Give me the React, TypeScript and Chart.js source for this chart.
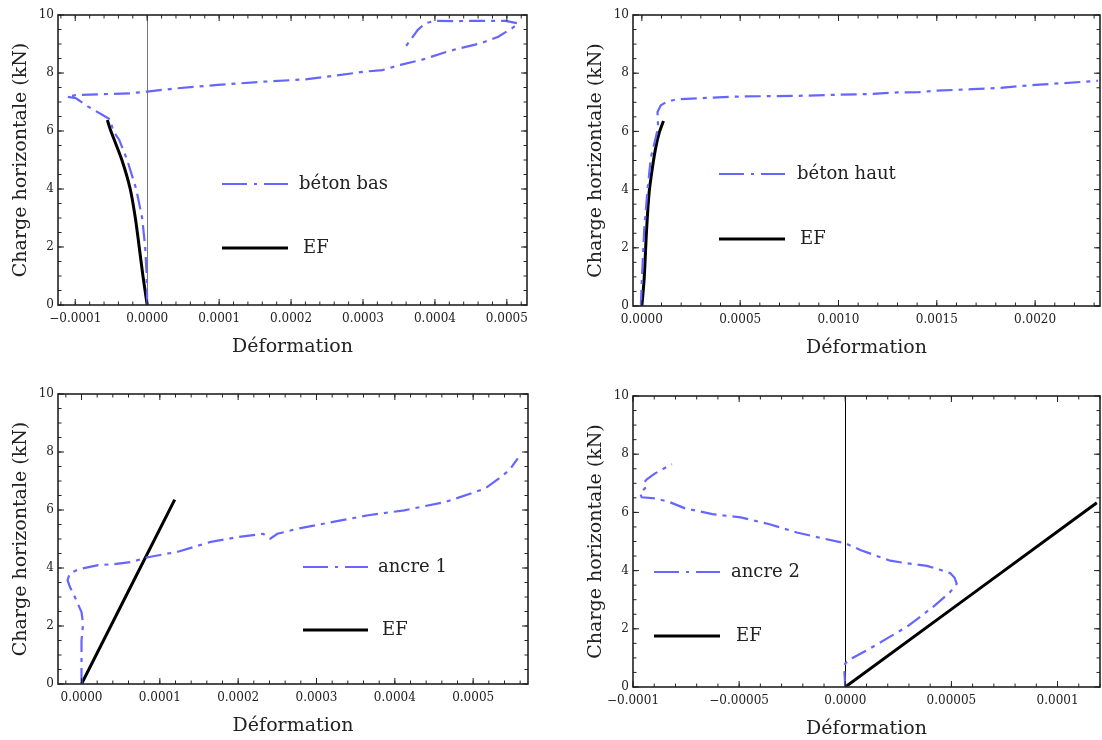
import React, { useEffect, useRef } from "react";
import { Chart, registerables } from "chart.js";

Chart.register(...registerables);

const FONT = "'DejaVu Serif', serif";
const BLUE = "rgb(102,102,255)";
const TEXT = "#222";

// ---------- data ----------
const yTicks = [0, 2, 4, 6, 8, 10];
const yTickLabels = ["0", "2", "4", "6", "8", "10"];

// Panel 1: béton bas
const betonBasX = [0, -0.0000007, -0.0000028, -0.000007, -0.0000153, -0.0000278, -0.000039, -0.0000473, -0.0000515, -0.000062, -0.000082, -0.000099, -0.0001115, -0.000099, -0.000024, 0, 0.00004, 0.0000983, 0.000162, 0.00022, 0.000259, 0.000303, 0.000327, 0.000352, 0.000381, 0.00041, 0.000429, 0.000463, 0.000488, 0.000507, 0.000516, 0.000498, 0.000468, 0.000429, 0.0004, 0.000386, 0.000376, 0.000366, 0.000356];
const betonBasY = [0, 1, 2, 3, 4, 5, 5.7, 6, 6.4, 6.55, 6.84, 7.13, 7.18, 7.24, 7.3, 7.36, 7.47, 7.59, 7.7, 7.78, 7.9, 8.05, 8.1, 8.28, 8.45, 8.68, 8.82, 9.02, 9.25, 9.54, 9.71, 9.8, 9.8, 9.79, 9.8, 9.71, 9.48, 9.14, 8.79];
const efBasX = [0, -0.0000059, -0.0000111, -0.0000165, -0.0000236, -0.0000352, -0.0000505, -0.0000554];
const efBasY = [0, 1, 2, 3, 4, 5, 6, 6.38];
const xTicks1 = [-0.0001, 0, 0.0001, 0.0002, 0.0003, 0.0004, 0.0005];
const xTickLabels1 = ["\u22120.0001", "0.0000", "0.0001", "0.0002", "0.0003", "0.0004", "0.0005"];

// Panel 2: béton haut
const betonHautX = [-0.000005, 0, 0.0000117, 0.0000289, 0.0000457, 0.0000711, 0.0000827, 0.0000797, 0.0000964, 0.000122, 0.000173, 0.000325, 0.0005, 0.000785, 0.001, 0.00114, 0.0013, 0.00141, 0.0015, 0.00168, 0.00181, 0.002, 0.00215, 0.00232];
const betonHautY = [0, 0.9, 2.6, 4.0, 5.1, 5.8, 6.15, 6.67, 6.9, 7.0, 7.1, 7.15, 7.2, 7.22, 7.26, 7.28, 7.34, 7.35, 7.4, 7.45, 7.49, 7.6, 7.66, 7.74];
const efHautX = [0, 0.0000117, 0.0000239, 0.000037, 0.0000543, 0.0000711, 0.0000878, 0.00011];
const efHautY = [0, 0.93, 2.6, 3.9, 4.78, 5.46, 5.94, 6.36];
const xTicks2 = [0, 0.0005, 0.001, 0.0015, 0.002];
const xTickLabels2 = ["0.0000", "0.0005", "0.0010", "0.0015", "0.0020"];

// Panel 3: ancre 1
const ancre1X = [0, 0, 0.000002, 0, -0.0000085, -0.0000149, -0.0000178, -0.0000149, -0.0000043, 0.0000212, 0.00004, 0.0000637, 0.0000848, 0.000123, 0.000165, 0.000201, 0.000232, 0.000241, 0.00025, 0.000277, 0.000321, 0.000366, 0.000412, 0.000434, 0.000465, 0.000497, 0.000515, 0.000533, 0.000546, 0.000557];
const ancre1Y = [0, 1.5, 2.08, 2.48, 3.0, 3.35, 3.58, 3.81, 3.95, 4.1, 4.13, 4.21, 4.37, 4.56, 4.9, 5.07, 5.18, 5.01, 5.18, 5.36, 5.59, 5.82, 5.99, 6.11, 6.28, 6.57, 6.74, 7.09, 7.37, 7.78];
const efAncre1X = [0, 0.000119];
const efAncre1Y = [0, 6.36];
const xTicks3 = [0, 0.0001, 0.0002, 0.0003, 0.0004, 0.0005];
const xTickLabels3 = ["0.0000", "0.0001", "0.0002", "0.0003", "0.0004", "0.0005"];

// Panel 4: ancre 2
const ancre2X = [0, -0.0000004, 0, 0.0000032, 0.0000118, 0.0000197, 0.0000291, 0.0000354, 0.0000425, 0.0000495, 0.0000525, 0.0000515, 0.0000495, 0.000045, 0.0000385, 0.0000291, 0.0000212, 0.0000134, 0.0000071, 0, -0.0000096, -0.0000228, -0.0000361, -0.0000493, -0.0000626, -0.0000755, -0.0000833, -0.0000896, -0.0000959, -0.0000967, -0.0000943, -0.0000951, -0.0000935, -0.0000896, -0.0000817];
const ancre2Y = [0, 0.5, 0.81, 0.99, 1.33, 1.67, 2.07, 2.42, 2.82, 3.27, 3.55, 3.75, 3.91, 4.02, 4.16, 4.25, 4.34, 4.54, 4.71, 4.94, 5.09, 5.31, 5.6, 5.83, 5.94, 6.14, 6.37, 6.48, 6.52, 6.66, 6.83, 7.0, 7.14, 7.34, 7.66];
const efAncre2X = [0, 0.0001185];
const efAncre2Y = [0, 6.33];
const xTicks4 = [-0.0001, -0.00005, 0, 0.00005, 0.0001];
const xTickLabels4 = ["\u22120.0001", "\u22120.00005", "0.0000", "0.00005", "0.0001"];

const zip = (xs: number[], ys: number[]) => xs.map((x, i) => ({ x, y: ys[i] }));

type Spec = {
  left: number; top: number; width: number; height: number; padRight: number;
  xMin: number; xMax: number; xTicks: number[]; xTickLabels: string[]; xMinor: number;
  label: string; sx: number[]; sy: number[]; ex: number[]; ey: number[];
  zeroLine: string | null;
  legend: { x0: number; x1: number; ys: number[]; dx: number[] };
};

const minorList = (min: number, max: number, step: number) => {
  const out: number[] = [];
  const start = Math.ceil(min / step - 1e-9);
  const end = Math.floor(max / step + 1e-9);
  for (let k = start; k <= end; k++) out.push(k * step);
  return out;
};

const framePlugin = {
  id: "frame",
  beforeDatasetsDraw(chart: any, _a: any, opts: any) {
    if (!opts.zeroLine) return;
    const { ctx, chartArea } = chart;
    const px = chart.scales.x.getPixelForValue(0);
    ctx.save();
    ctx.strokeStyle = opts.zeroLine;
    ctx.lineWidth = 1;
    ctx.beginPath();
    ctx.moveTo(Math.round(px) + 0.5, chartArea.top);
    ctx.lineTo(Math.round(px) + 0.5, chartArea.bottom);
    ctx.stroke();
    ctx.restore();
  },
  afterDatasetsDraw(chart: any, _a: any, opts: any) {
    const { ctx, chartArea } = chart;
    const { left, right, top, bottom } = chartArea;
    const xs = chart.scales.x;
    const ys = chart.scales.y;
    ctx.save();
    ctx.strokeStyle = "#222";
    ctx.lineWidth = 1;
    const tick = (v: number, len: number, axis: "x" | "y") => {
      if (axis === "x") {
        const p = xs.getPixelForValue(v);
        ctx.moveTo(p, bottom); ctx.lineTo(p, bottom - len);
        ctx.moveTo(p, top); ctx.lineTo(p, top + len);
      } else {
        const p = ys.getPixelForValue(v);
        ctx.moveTo(left, p); ctx.lineTo(left + len, p);
        ctx.moveTo(right, p); ctx.lineTo(right - len, p);
      }
    };
    ctx.beginPath();
    minorList(xs.min, xs.max, opts.xMinor).forEach((v) => tick(v, 3.5, "x"));
    minorList(ys.min, ys.max, 0.5).forEach((v) => tick(v, 3.5, "y"));
    opts.xTicks.forEach((v: number) => tick(v, 6, "x"));
    yTicks.forEach((v) => tick(v, 6, "y"));
    ctx.stroke();
    ctx.lineWidth = 1.6;
    ctx.strokeRect(left, top, right - left, bottom - top);
    ctx.restore();
  },
  afterDraw(chart: any, _a: any, opts: any) {
    const { ctx, chartArea } = chart;
    const lg = opts.legend;
    ctx.save();
    chart.data.datasets.forEach((ds: any, i: number) => {
      const y = chartArea.top + lg.ys[i];
      ctx.strokeStyle = ds.borderColor;
      ctx.lineWidth = ds.borderWidth;
      ctx.setLineDash(ds.legendDash || []);
      ctx.beginPath();
      ctx.moveTo(chartArea.left + lg.x0, y);
      ctx.lineTo(chartArea.left + lg.x1, y);
      ctx.stroke();
      ctx.setLineDash([]);
      ctx.fillStyle = TEXT;
      ctx.font = `18px ${FONT}`;
      ctx.textBaseline = "middle";
      ctx.textAlign = "left";
      ctx.fillText(ds.label, chartArea.left + lg.x1 + lg.dx[i], y);
    });
    ctx.restore();
  },
};

function Panel({ spec }: { spec: Spec }) {
  const ref = useRef<HTMLCanvasElement | null>(null);
  useEffect(() => {
    if (!ref.current) return;
    const chart = new Chart(ref.current, {
      type: "line",
      data: {
        datasets: [
          {
            label: spec.label,
            data: zip(spec.sx, spec.sy),
            borderColor: BLUE,
            borderWidth: 2.2,
            borderDash: [16, 6, 4, 6],
            legendDash: [25, 7, 3, 7],
            pointRadius: 0,
            tension: 0,
            fill: false,
          } as any,
          {
            label: "EF",
            data: zip(spec.ex, spec.ey),
            borderColor: "#000",
            borderWidth: 3,
            pointRadius: 0,
            tension: 0.3,
            fill: false,
          } as any,
        ],
      },
      options: {
        animation: false,
        responsive: false,
        maintainAspectRatio: false,
        parsing: false as any,
        layout: { padding: { left: 0, right: spec.padRight, top: 15, bottom: 0 } },
        plugins: {
          legend: { display: false },
          tooltip: { enabled: false },
          frame: { zeroLine: spec.zeroLine, xMinor: spec.xMinor, xTicks: spec.xTicks, legend: spec.legend },
        } as any,
        scales: {
          x: {
            type: "linear",
            min: spec.xMin,
            max: spec.xMax,
            grid: { display: false, drawTicks: false },
            border: { display: false },
            afterBuildTicks: (s: any) => { s.ticks = spec.xTicks.map((v) => ({ value: v })); },
            afterFit: (s: any) => { s.height = 65; s.paddingLeft = 0; s.paddingRight = 0; },
            ticks: {
              callback: (_v: any, i: number) => spec.xTickLabels[i],
              padding: 7,
              autoSkip: false,
              maxRotation: 0,
              color: TEXT,
              font: { family: FONT, size: 12 },
            },
            title: {
              display: true,
              text: "Déformation",
              color: TEXT,
              font: { family: FONT, size: 19 },
              padding: { top: 0, bottom: 12 },
            },
          },
          y: {
            type: "linear",
            min: 0,
            max: 10,
            grid: { display: false, drawTicks: false },
            border: { display: false },
            afterBuildTicks: (s: any) => { s.ticks = yTicks.map((v) => ({ value: v })); },
            afterFit: (s: any) => { s.width = 58; s.paddingTop = 0; s.paddingBottom = 0; },
            ticks: {
              callback: (_v: any, i: number) => yTickLabels[i],
              padding: 4,
              autoSkip: false,
              color: TEXT,
              font: { family: FONT, size: 12 },
            },
            title: {
              display: true,
              text: "Charge horizontale (kN)",
              color: TEXT,
              font: { family: FONT, size: 19 },
              padding: { top: 10, bottom: 0 },
            },
          },
        },
      },
      plugins: [framePlugin],
    });
    return () => chart.destroy();
  }, [spec]);
  return (
    <canvas
      ref={ref}
      width={spec.width}
      height={spec.height}
      style={{ position: "absolute", left: spec.left, top: spec.top }}
    />
  );
}

const specs: Spec[] = [
  {
    left: 0, top: 0, width: 551, height: 370, padRight: 24,
    xMin: -0.000124, xMax: 0.000528, xTicks: xTicks1, xTickLabels: xTickLabels1, xMinor: 0.00002,
    label: "béton bas", sx: betonBasX, sy: betonBasY, ex: efBasX, ey: efBasY,
    zeroLine: "#777",
    legend: { x0: 164, x1: 230, ys: [169, 233], dx: [11, 15] },
  },
  {
    left: 575, top: 0, width: 527, height: 371, padRight: 2,
    xMin: -0.000045, xMax: 0.00233, xTicks: xTicks2, xTickLabels: xTickLabels2, xMinor: 0.0001,
    label: "béton haut", sx: betonHautX, sy: betonHautY, ex: efHautX, ey: efHautY,
    zeroLine: null,
    legend: { x0: 86, x1: 152, ys: [159, 224], dx: [12, 15] },
  },
  {
    left: 0, top: 379, width: 551, height: 370, padRight: 23,
    xMin: -0.00003, xMax: 0.00057, xTicks: xTicks3, xTickLabels: xTickLabels3, xMinor: 0.00002,
    label: "ancre 1", sx: ancre1X, sy: ancre1Y, ex: efAncre1X, ey: efAncre1Y,
    zeroLine: null,
    legend: { x0: 245, x1: 310, ys: [173, 236], dx: [10, 14] },
  },
  {
    left: 575, top: 381, width: 527, height: 371, padRight: 2,
    xMin: -0.0001, xMax: 0.00012, xTicks: xTicks4, xTickLabels: xTickLabels4, xMinor: 0.00001,
    label: "ancre 2", sx: ancre2X, sy: ancre2Y, ex: efAncre2X, ey: efAncre2Y,
    zeroLine: "#000",
    legend: { x0: 21, x1: 87, ys: [176, 240], dx: [11, 16] },
  },
];

export default function App() {
  return (
    <div style={{ position: "absolute", left: 0, top: 0, width: 1102, height: 740, overflow: "hidden", background: "#fff" }}>
      {specs.map((s, i) => (
        <Panel key={i} spec={s} />
      ))}
    </div>
  );
}
